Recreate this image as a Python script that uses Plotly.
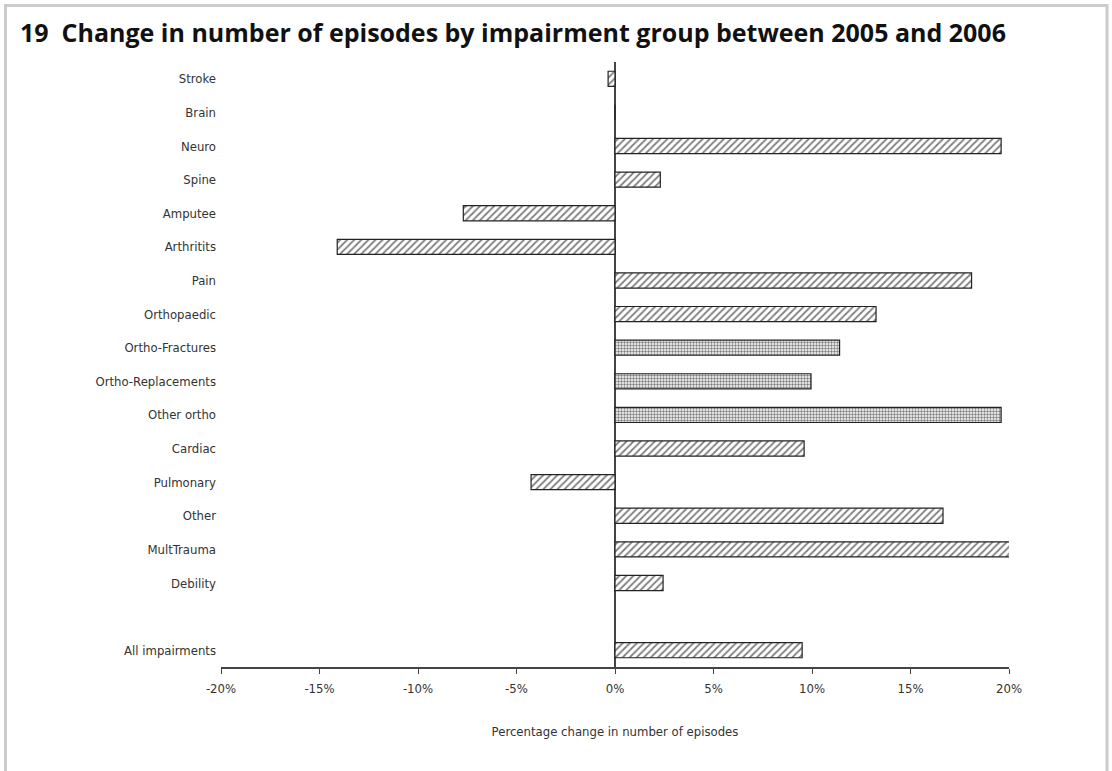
import plotly.graph_objects as go

categories = ["Stroke", "Brain", "Neuro", "Spine", "Amputee", "Arthritits", "Pain",
              "Orthopaedic", "Ortho-Fractures", "Ortho-Replacements", "Other ortho",
              "Cardiac", "Pulmonary", "Other", "MultTrauma", "Debility", " ", "All impairments"]
values = [-0.35, 0.0, 19.6, 2.3, -7.7, -14.1, 18.1, 13.25, 11.4, 9.95, 19.6,
          9.6, -4.26, 16.65, 20.2, 2.44, None, 9.5]
patterns = ["/", "/", "/", "/", "/", "/", "/", "/", ".", ".", ".",
            "/", "/", "/", "/", "/", "/", "/"]
pattern_sizes = [5, 5, 5, 5, 5, 5, 5, 5, 3, 3, 3, 5, 5, 5, 5, 5, 5, 5]
pattern_solidity = [0.35, 0.35, 0.35, 0.35, 0.35, 0.35, 0.35, 0.35, 0.5, 0.5, 0.5,
                    0.35, 0.35, 0.35, 0.35, 0.35, 0.35, 0.35]
x_ticks = [-20, -15, -10, -5, 0, 5, 10, 15, 20]
x_labels = ["-20%", "-15%", "-10%", "-5%", "0%", "5%", "10%", "15%", "20%"]

W, H = 1112, 771
ML, MR, MT, MB = 221, 103, 62, 104

def px_x(p):
    return (p - ML) / (W - ML - MR)

def px_y(p):
    return 1 - (p - MT) / (H - MT - MB)

fig = go.Figure()
fig.add_trace(go.Bar(
    y=categories, x=values, orientation="h", width=0.45, cliponaxis=False,
    marker=dict(color="white",
                line=dict(color="#222222", width=1.2),
                pattern=dict(shape=patterns, fgcolor="#000000", bgcolor="white",
                             size=pattern_sizes, solidity=pattern_solidity, fillmode="overlay")),
    hoverinfo="x+y", showlegend=False,
))

label_font = dict(family="DejaVu Sans Condensed, Roboto, sans-serif", size=13, color="#333333")

fig.update_layout(
    width=W, height=H,
    margin=dict(l=ML, r=MR, t=MT, b=MB, pad=0),
    paper_bgcolor="white", plot_bgcolor="white",
    title=dict(text="<b>19  Change in number of episodes by impairment group between 2005 and 2006</b>",
               x=20 / W, xanchor="left", y=1 - 33 / H, yanchor="middle",
               font=dict(family="Open Sans, Lato, sans-serif", size=25, color="#111111")),
    xaxis=dict(range=[-20, 20], tickvals=x_ticks, ticktext=x_labels,
               showgrid=False, zeroline=True, zerolinecolor="#444444", zerolinewidth=1.5,
               showline=True, linecolor="#444444", linewidth=1.5,
               ticks="outside", ticklen=5, tickcolor="#444444", tickwidth=1.2,
               tickfont=label_font, ticklabelstandoff=4,
               title=dict(text="Percentage change in number of episodes", font=label_font, standoff=32)),
    yaxis=dict(categoryorder="array", categoryarray=categories, autorange="reversed",
               showgrid=False, zeroline=False, showline=False, ticks="",
               tickfont=label_font, ticklabelstandoff=4),
    shapes=[
        dict(type="line", xref="paper", yref="paper", x0=px_x(5), x1=px_x(1108), y0=px_y(5.5), y1=px_y(5.5),
             line=dict(color="#cccccc", width=3)),
        dict(type="line", xref="paper", yref="paper", x0=px_x(5.5), x1=px_x(5.5), y0=px_y(4), y1=px_y(771),
             line=dict(color="#cccccc", width=3)),
        dict(type="line", xref="paper", yref="paper", x0=px_x(1107), x1=px_x(1107), y0=px_y(4), y1=px_y(771),
             line=dict(color="#cccccc", width=3)),
    ],
)

fig.write_html("out.html", config={"displayModeBar": False},
               post_script="document.body.style.margin='0';document.body.style.overflow='hidden';")
